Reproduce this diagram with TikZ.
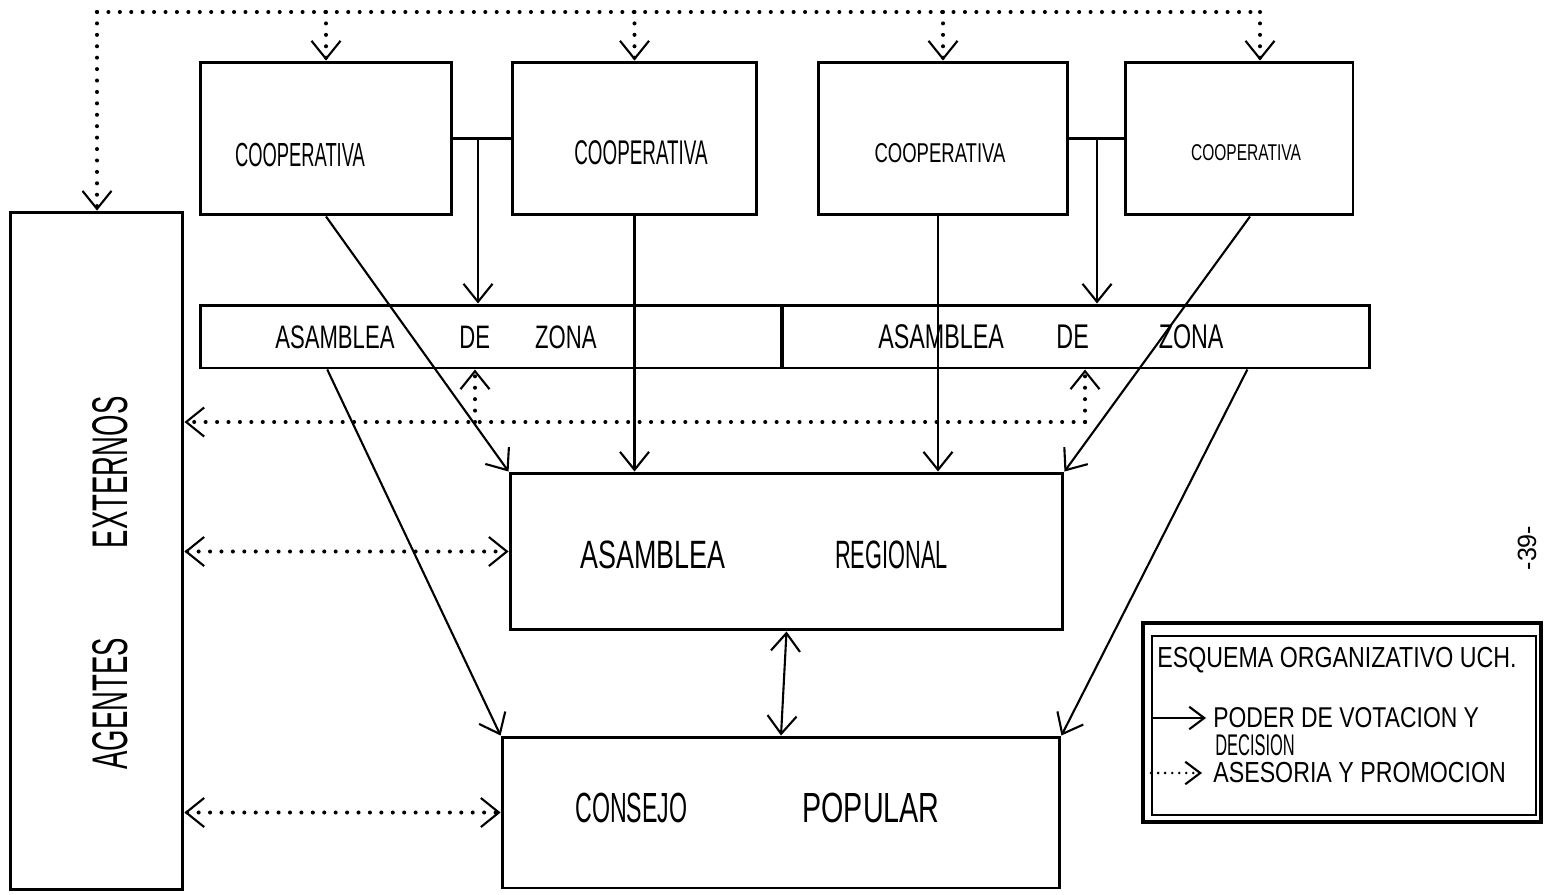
\documentclass[tikz,border=0pt]{standalone}
\usepackage{fontspec}
\setmainfont{Liberation Sans}
\newfontfamily\hx[FakeStretch=0.55]{Liberation Sans}
\newfontfamily\hn[FakeStretch=0.68]{Liberation Sans}
\newfontfamily\hm[FakeStretch=0.8]{Liberation Sans}
\newfontfamily\hw[FakeStretch=0.95]{Liberation Sans}
\usetikzlibrary{arrows.meta,calc}
\tikzset{
  box/.style={draw, line width=1.7pt, inner sep=0pt},
  txt/.style={inner sep=0pt},
  conn/.style={line width=1.2pt},
  arr/.style={conn, -{Straight Barb[length=3.6mm,width=5.8mm,line width=1.2pt]}},
  darr/.style={conn, {Straight Barb[length=3.6mm,width=5.8mm,line width=1.2pt]}-{Straight Barb[length=3.6mm,width=5.8mm,line width=1.2pt]}},
  dots/.style={line width=2.3pt, line cap=round, dash pattern=on 0pt off 6.5pt},
  dotarr/.style={dots, -{Straight Barb[length=3.6mm,width=5.8mm,line width=1.2pt]}},
  dotarrr/.style={dots, {Straight Barb[length=3.6mm,width=5.8mm,line width=1.2pt]}-{Straight Barb[length=3.6mm,width=5.8mm,line width=1.2pt]}},
  sarr/.style={conn, -{Straight Barb[length=3mm,width=4.5mm,line width=1.2pt]}},
  sdot/.style={line width=1.6pt, line cap=round, dash pattern=on 0pt off 4pt, -{Straight Barb[length=3mm,width=4.5mm,line width=1.2pt]}},
}
\begin{document}
\begin{tikzpicture}[x=0.02cm,y=-0.02cm]
\useasboundingbox (0,0) rectangle (1544,895);

% cooperativas
\node[box, minimum width=5.04cm, minimum height=3.06cm] (c1) at (326,138.5) {};
\node[box, minimum width=4.90cm, minimum height=3.06cm] (c2) at (634.5,138.5) {};
\node[box, minimum width=5.00cm, minimum height=3.06cm] (c3) at (943,138.5) {};
\node[box, minimum width=4.56cm, minimum height=3.06cm] (c4) at (1239,138.5) {};
\node[txt] (c1t) at (300,155) {\hx\fontsize{19}{22}\selectfont COOPERATIVA};
\node[txt] (c2t) at (641,153) {\hx\fontsize{19.5}{22}\selectfont COOPERATIVA};
\node[txt] (c3t) at (940,153) {\hn\fontsize{15.5}{18}\selectfont COOPERATIVA};
\node[txt] (c4t) at (1246,153) {\hn\fontsize{13}{15}\selectfont COOPERATIVA};

% asambleas de zona
\node[box, minimum width=11.64cm, minimum height=1.26cm] (z1) at (491,336.5) {};
\node[box, minimum width=11.76cm, minimum height=1.26cm] (z2) at (1076,336.5) {};
\node[txt, anchor=west] (z1t) at (275,337) {\hn\fontsize{18.5}{20}\selectfont ASAMBLEA\hspace{1.3cm}DE\hspace{0.9cm}ZONA};
\node[txt, anchor=west] (z2t) at (878,337) {\hn\fontsize{19.5}{20}\selectfont ASAMBLEA\hspace{1.05cm}DE\hspace{1.4cm}ZONA};

% agentes externos
\node[box, minimum width=3.46cm, minimum height=13.56cm] (ag) at (96.5,551) {};
\node[txt, rotate=90, anchor=west] (agt) at (110,770) {\hx\fontsize{28.5}{32}\selectfont AGENTES\hspace{1.8cm}EXTERNOS};

% asamblea regional, consejo popular
\node[box, minimum width=11.06cm, minimum height=3.14cm] (reg) at (786.5,551.5) {};
\node[txt, anchor=west] (regt) at (580,555) {\fontsize{22.5}{26}\selectfont{\hn ASAMBLEA}\hspace{2.2cm}{\hx REGIONAL}};
\node[box, minimum width=11.16cm, minimum height=3.02cm] (con) at (781,812.5) {};
\node[txt, anchor=west] (cont) at (575,808) {\fontsize{24}{26}\selectfont{\hx CONSEJO}\hspace{2.3cm}{\hn POPULAR}};

% top dotted distribution
\coordinate (tl) at (97,12);
\coordinate (tr) at (1260,12);
\draw[dots] (tl) -- (tr);
\draw[dotarr] (tl) -- (tl |- ag.north);
\draw[dotarr] (c1.north |- tl) -- (c1.north);
\draw[dotarr] (c2.north |- tl) -- (c2.north);
\draw[dotarr] (c3.north |- tl) -- (c3.north);
\draw[dotarr] (tr) -- (tr |- c4.north);

% links between cooperativas to zonas
\draw[conn] (c1.east) -- (c2.west);
\draw[conn] (c3.east) -- (c4.west);
\coordinate (j1) at ($(c1.east)!0.43!(c2.west)$);
\coordinate (j2) at ($(c3.east)!0.51!(c4.west)$);
\draw[arr] (j1) -- (j1 |- z1.north);
\draw[arr] (j2) -- (j2 |- z2.north);

% cooperativas to asamblea regional
\draw[arr] (c1.south) -- (reg.north west);
\draw[arr] (c2.south) -- (c2.south |- reg.north);
\draw[arr] ([xshift=-0.1cm]c3.south) -- ([xshift=-0.1cm]c3.south |- reg.north);
\draw[arr] ([xshift=0.22cm]c4.south) -- (reg.north east);

% zonas to consejo
\draw[arr] ($(z1.south west)!0.22!(z1.south east)$) -- (con.north west);
\draw[arr] ($(z2.south west)!0.79!(z2.south east)$) -- (con.north east);

% regional <-> consejo
\draw[darr] (reg.south) -- (con.north);

% middle dotted
\coordinate (mr) at (1085,422);
\coordinate (ml) at (475,422);
\draw[dotarr] (mr) -- (ag.east |- mr);
\draw[dotarr] (mr) -- (mr |- z2.south);
\draw[dotarr] (ml) -- (ml |- z1.south);
\draw[dotarrr] (reg.west -| ag.east) -- (reg.west);
\draw[dotarrr] (con.west -| ag.east) -- (con.west);

% legend
\node[draw, line width=1.9pt, minimum width=7.96cm, minimum height=3.98cm, inner sep=0pt] (lego) at (1342,722.5) {};
\node[draw, line width=1.1pt, minimum width=7.68cm, minimum height=3.58cm, inner sep=0pt] (leg) at (1344,725.5) {};
\node[txt, anchor=west] (l1) at (1157,660) {\hm\fontsize{16.5}{18}\selectfont ESQUEMA ORGANIZATIVO UCH.};
\coordinate (la) at (1206,718);
\coordinate (lb) at (1202,773);
\draw[sarr] (leg.west |- la) -- (la);
\draw[sdot] (leg.west |- lb) -- (lb);
\node[txt, anchor=west] (l2) at (1213,718) {\hm\fontsize{16.3}{18}\selectfont PODER DE VOTACION Y};
\node[txt, anchor=west] (l3) at (1215,745) {\hx\fontsize{17}{18}\selectfont DECISION};
\node[txt, anchor=west] (l4) at (1213,773) {\hm\fontsize{16.5}{18}\selectfont ASESORIA Y PROMOCION};

% page number
\node[txt, rotate=90] (pg) at (1527,548) {\hw\fontsize{15}{17}\selectfont -39-};
\end{tikzpicture}
\end{document}
